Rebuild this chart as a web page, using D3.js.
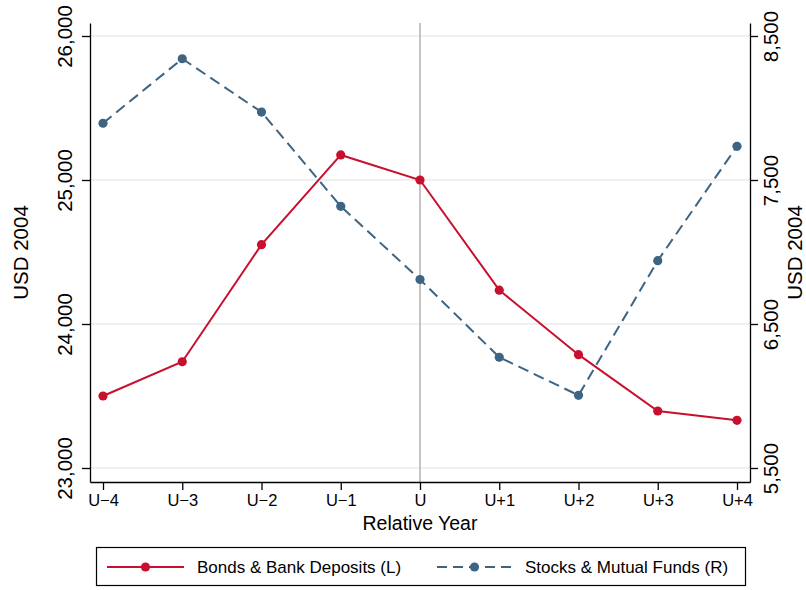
<!DOCTYPE html>
<html>
<head>
<meta charset="utf-8">
<script src="https://cdn.jsdelivr.net/npm/d3@7"></script>
<style>
  html, body { margin: 0; padding: 0; background: #fff; }
  svg { display: block; font-family: "Liberation Sans", Arial, Helvetica, sans-serif; }
</style>
</head>
<body>
<svg id="chart" width="806" height="590"></svg>
<script>
// ---- data ----
const categories = ["U\u22124", "U\u22123", "U\u22122", "U\u22121", "U", "U+1", "U+2", "U+3", "U+4"];
const bondsDeposits = [23500, 23738, 24551, 25174, 25000, 24235, 23787, 23396, 23331];   // left axis
const stocksFunds   = [7894, 8342, 7972, 7317, 6809, 6269, 6005, 6940, 7734];             // right axis
const leftTicks  = [23000, 24000, 25000, 26000];
const rightTicks = [5500, 6500, 7500, 8500];
const seriesNames = ["Bonds & Bank Deposits (L)", "Stocks & Mutual Funds (R)"];
const xTitle = "Relative Year";
const yTitle = "USD 2004";
const refCategory = "U";

// ---- layout ----
const svg = d3.select("#chart");
const pLeft = 90, pRight = 750, pTop = 23, pBottom = 482;
const red = "#c8102e", blue = "#3d6482";

const x = d3.scalePoint().domain(categories).range([pLeft, pRight]).padding(0.164);
const yL = d3.scaleLinear().domain([22902.8, 26090.3]).range([pBottom, pTop]);
const yR = d3.scaleLinear().domain([5402.8, 8590.3]).range([pBottom, pTop]);

// gridlines
svg.append("g").selectAll("line").data(leftTicks).join("line")
  .attr("x1", pLeft).attr("x2", pRight)
  .attr("y1", d => yL(d)).attr("y2", d => yL(d))
  .attr("stroke", "#ebebeb").attr("stroke-width", 1.6);

// reference vertical line
svg.append("line")
  .attr("x1", x(refCategory)).attr("x2", x(refCategory))
  .attr("y1", pTop).attr("y2", pBottom)
  .attr("stroke", "#c4c4c4").attr("stroke-width", 2);

// axes
const axStyle = g => {
  g.selectAll("path.domain").attr("stroke", "#000").attr("stroke-width", 1.3);
  g.selectAll(".tick line").attr("stroke", "#000").attr("stroke-width", 1.3);
};
const gL = svg.append("g").attr("transform", `translate(${pLeft},0)`)
  .call(d3.axisLeft(yL).tickValues(leftTicks).tickSize(8).tickSizeOuter(0).tickFormat(d3.format(",")))
  .call(axStyle);
gL.selectAll(".tick text")
  .attr("transform", "rotate(-90)").attr("x", 0).attr("y", -18).attr("dy", 0)
  .attr("text-anchor", "middle").attr("font-size", 20.5).attr("fill", "#000")
  .attr("font-family", "'Liberation Sans', Arial, sans-serif");

const gR = svg.append("g").attr("transform", `translate(${pRight},0)`)
  .call(d3.axisRight(yR).tickValues(rightTicks).tickSize(8).tickSizeOuter(0).tickFormat(d3.format(",")))
  .call(axStyle);
gR.selectAll(".tick text")
  .attr("transform", "rotate(-90)").attr("x", 0).attr("y", 28).attr("dy", 0)
  .attr("text-anchor", "middle").attr("font-size", 20.5).attr("fill", "#000")
  .attr("font-family", "'Liberation Sans', Arial, sans-serif");

const gX = svg.append("g").attr("transform", `translate(0,${pBottom})`)
  .call(d3.axisBottom(x).tickSize(8).tickSizeOuter(0))
  .call(axStyle);
gX.selectAll(".tick text")
  .attr("y", 24).attr("dy", 0).attr("font-size", 16.5).attr("fill", "#000")
  .attr("font-family", "'Liberation Sans', Arial, sans-serif");

// axis titles
svg.append("text").attr("transform", `translate(28,${(pTop + pBottom) / 2}) rotate(-90)`)
  .attr("text-anchor", "middle").attr("font-size", 20.5).text(yTitle);
svg.append("text").attr("transform", `translate(802,${(pTop + pBottom) / 2}) rotate(-90)`)
  .attr("text-anchor", "middle").attr("font-size", 20.5).text(yTitle);
svg.append("text").attr("x", (pLeft + pRight) / 2).attr("y", 529.5)
  .attr("text-anchor", "middle").attr("font-size", 19.5).text(xTitle);

// series
const lineL = d3.line().x((d, i) => x(categories[i])).y(d => yL(d));
const lineR = d3.line().x((d, i) => x(categories[i])).y(d => yR(d));

svg.append("path").datum(stocksFunds).attr("d", lineR)
  .attr("fill", "none").attr("stroke", blue).attr("stroke-width", 2)
  .attr("stroke-dasharray", "11,6");
svg.append("g").selectAll("circle").data(stocksFunds).join("circle")
  .attr("cx", (d, i) => x(categories[i])).attr("cy", d => yR(d)).attr("r", 4.6).attr("fill", blue);

svg.append("path").datum(bondsDeposits).attr("d", lineL)
  .attr("fill", "none").attr("stroke", red).attr("stroke-width", 2);
svg.append("g").selectAll("circle").data(bondsDeposits).join("circle")
  .attr("cx", (d, i) => x(categories[i])).attr("cy", d => yL(d)).attr("r", 4.6).attr("fill", red);

// legend
const lg = svg.append("g");
lg.append("rect").attr("x", 96.5).attr("y", 547.5).attr("width", 649).attr("height", 38)
  .attr("fill", "#fff").attr("stroke", "#000").attr("stroke-width", 1.2);
const items = [
  { name: seriesNames[0], color: red, dash: null, x0: 107, x1: 184, tx: 197 },
  { name: seriesNames[1], color: blue, dash: "10,6", x0: 437, x1: 512, tx: 525 }
];
items.forEach(it => {
  lg.append("line").attr("x1", it.x0).attr("x2", it.x1).attr("y1", 567).attr("y2", 567)
    .attr("stroke", it.color).attr("stroke-width", 2).attr("stroke-dasharray", it.dash);
  lg.append("circle").attr("cx", (it.x0 + it.x1) / 2).attr("cy", 567).attr("r", 4.6).attr("fill", it.color);
  lg.append("text").attr("x", it.tx).attr("y", 573).attr("font-size", 17).text(it.name);
});
</script>
</body>
</html>
